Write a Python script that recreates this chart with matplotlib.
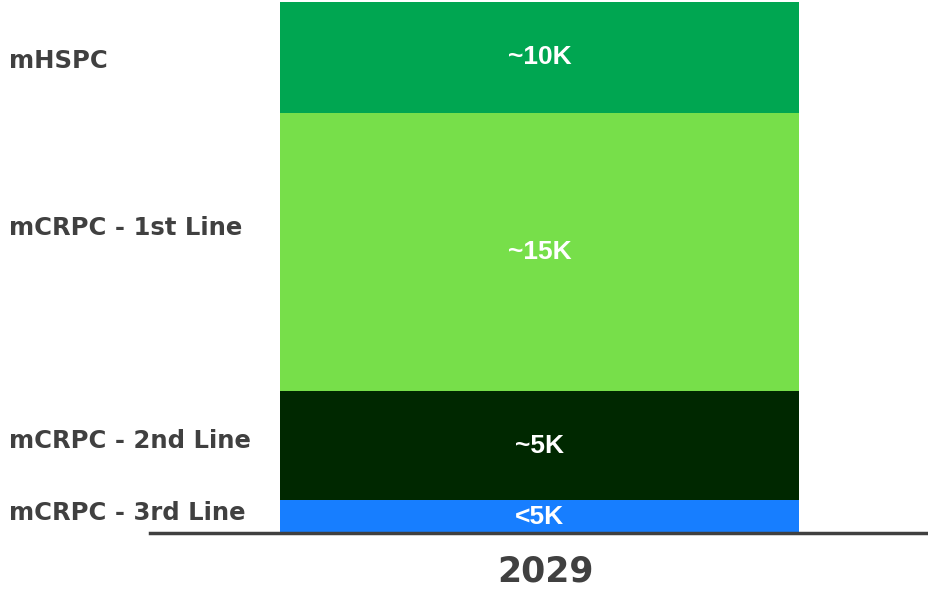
import matplotlib.pyplot as plt
from matplotlib.transforms import blended_transform_factory, offset_copy

segments = ["mCRPC - 3rd Line", "mCRPC - 2nd Line", "mCRPC - 1st Line", "mHSPC"]
sizes = [1.55, 5.1, 13.1, 5.2]
labels = ["<5K", "~5K", "~15K", "~10K"]
colors = ["#177EFF", "#002800", "#77DF4A", "#00A651"]
name_shift = [4, 5, 24, -4]  # nudges of the left labels, in pixels
year = "2029"

W, H = 929, 594
fig = plt.figure(figsize=(W / 100, H / 100), dpi=100)
ax = fig.add_axes([150 / W, 61 / H, 779 / W, 531 / H])
ax.set_xlim(0, 1)
ax.set_ylim(0, sum(sizes))

trans = blended_transform_factory(fig.transFigure, ax.transData)

bottom = 0
for name, val, lab, col, dy in zip(segments, sizes, labels, colors, name_shift):
    ax.bar(0.5, val, width=519 / 779, bottom=bottom, color=col, edgecolor="none")
    mid = bottom + val / 2
    ax.text(0.5, mid, lab, ha="center", va="center", color="white",
            fontsize=19, fontweight="bold", family=["Liberation Sans", "DejaVu Sans"])
    ax.text(9 / W, mid, name, ha="left", va="center", color="#404040",
            fontsize=17.5, fontweight="bold", family=["DejaVu Sans"],
            transform=offset_copy(trans, fig=fig, y=dy * 0.72, units="points"),
            clip_on=False)
    bottom += val

for s in ["top", "right", "left"]:
    ax.spines[s].set_visible(False)
ax.spines["bottom"].set_color("#404040")
ax.spines["bottom"].set_linewidth(2.5)
ax.set_yticks([])
ax.set_xticks([])

fig.text(545 / W, 1 - 572 / H, year, ha="center", va="center", color="#404040",
         fontsize=25, fontweight="bold", family=["DejaVu Sans"])

fig.savefig("out.png", dpi=100)
